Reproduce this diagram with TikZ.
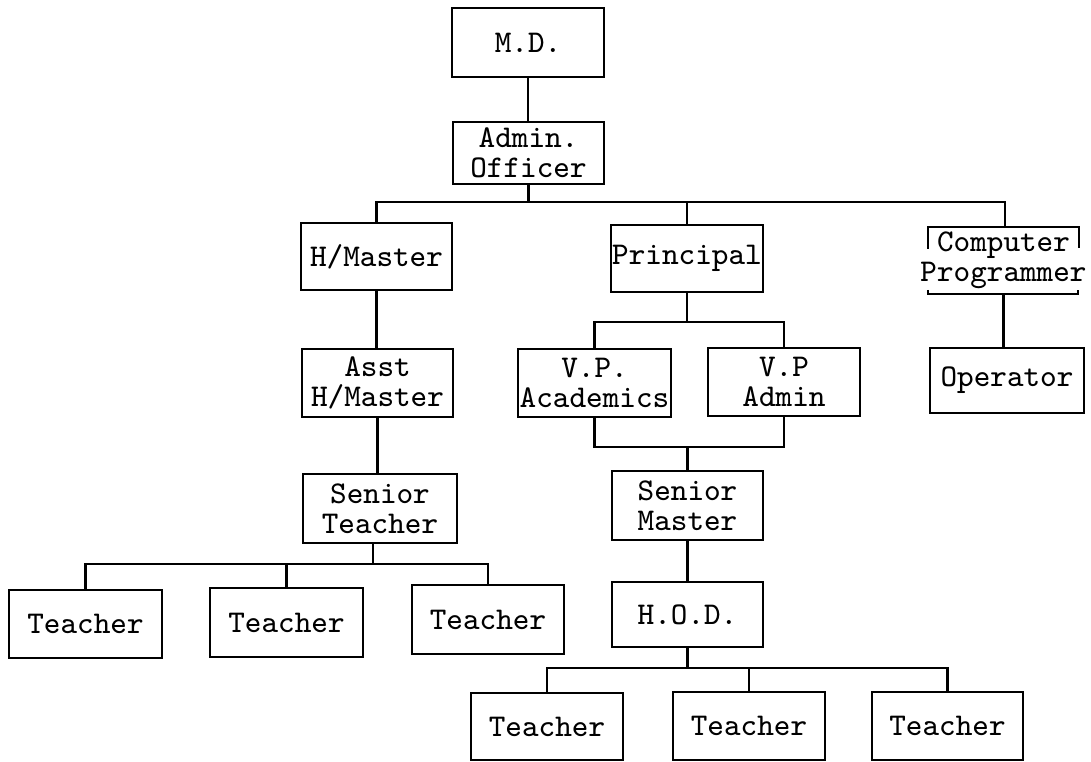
\documentclass[tikz,border=0pt]{standalone}
\usepackage{fontspec}
\begin{document}
\begin{tikzpicture}[x=0.01cm,y=-0.01cm,
  every node/.style={font=\ttfamily\fontsize{9}{8.4}\selectfont, inner sep=0pt, align=center},
  unit/.style={draw, line width=0.7pt, minimum width=1.52cm, minimum height=0.68cm},
  link/.style={line width=0.7pt}]
\useasboundingbox (0,0) rectangle (1091,762);

% top of the chart
\node[unit, minimum height=0.69cm] (md) at (528,42.5) {M.D.};
\node[unit, minimum width=1.51cm, minimum height=0.62cm] (admin) at (528.5,153) {Admin.\\Officer};

% second level
\node[unit, minimum width=1.51cm, minimum height=0.67cm] (hmaster) at (376.5,256.5) {H/Master};
\node[unit, minimum height=0.67cm] (principal) at (687,258.5) {Principal};
\node (comp) at (1003.5,260.5) {Computer\\Programmer};
\draw[link] ([shift={(-75.5,-11.5)}]comp.center) -- ([shift={(-75.5,-33.5)}]comp.center)
            -- ([shift={(75.5,-33.5)}]comp.center) -- ([shift={(75.5,-12.5)}]comp.center);
\draw[link] ([shift={(-75.5,29.5)}]comp.center) -- ([shift={(-75.5,33.5)}]comp.center)
            -- ([shift={(74.5,33.5)}]comp.center) -- ([shift={(74.5,29.5)}]comp.center);
\coordinate (comptop) at ([shift={(1.5,-33.5)}]comp.center);
\coordinate (compbot) at ([shift={(0,33.5)}]comp.center);

% third level
\node[unit, minimum width=1.51cm] (asst) at (377.5,383) {Asst\\H/Master};
\node[unit, minimum width=1.53cm] (vpac) at (594.5,383) {V.P.\\Academics};
\node[unit] (vpad) at (784,382) {V.P\\Admin};
\node[unit, minimum width=1.54cm, minimum height=0.65cm] (operator) at (1007,380.5) {Operator};

% fourth level
\node[unit, minimum width=1.54cm, minimum height=0.69cm] (steach) at (380,508.5) {Senior\\Teacher};
\node[unit, minimum width=1.51cm, minimum height=0.69cm] (smaster) at (687.5,505.5) {Senior\\Master};
\node[unit, minimum width=1.51cm, minimum height=0.65cm] (hod) at (687.5,614.5) {H.O.D.};

% teachers
\node[unit, minimum width=1.53cm] (t1) at (85.5,624) {Teacher};
\node[unit, minimum width=1.53cm, minimum height=0.69cm] (t2) at (286.5,622.5) {Teacher};
\node[unit, minimum height=0.69cm] (t3) at (488,619.5) {Teacher};
\node[unit, minimum height=0.67cm] (b1) at (547,726.5) {Teacher};
\node[unit] (b2) at (749,726) {Teacher};
\node[unit, minimum width=1.51cm] (b3) at (947.5,726) {Teacher};

% bus levels
\coordinate (busA) at (0,202);
\coordinate (busB) at (0,564);
\coordinate (busC) at (0,322);
\coordinate (busD) at (0,447);
\coordinate (busE) at (0,668);
\coordinate (stdrop) at ([xshift=-0.07cm]steach.south);

% connectors
\draw[link] (md.south) -- (md.south |- admin.north);
\draw[link] (admin.south) -- (admin.south |- busA);
\draw[link] (hmaster.north) |- (comptop |- busA) -- (comptop);
\draw[link] (principal.north) -- (principal.north |- busA);
\draw[link] (compbot) -- (compbot |- operator.north);

\draw[link] (hmaster.south) -- (hmaster.south |- asst.north);
\draw[link] (asst.south) -- (asst.south |- steach.north);
\draw[link] (stdrop) -- (stdrop |- busB);
\draw[link] (t1.north) |- (t3.north |- busB) -- (t3.north);
\draw[link] (t2.north) -- (t2.north |- busB);

\draw[link] (principal.south) -- (principal.south |- busC);
\draw[link] (vpac.north) |- (vpad.north |- busC) -- (vpad.north);
\draw[link] (vpac.south) |- (vpad.south |- busD) -- (vpad.south);
\draw[link] (smaster.north) -- (smaster.north |- busD);
\draw[link] (smaster.south) -- (smaster.south |- hod.north);

\draw[link] (hod.south) -- (hod.south |- busE);
\draw[link] (b1.north) |- (b3.north |- busE) -- (b3.north);
\draw[link] (b2.north) -- (b2.north |- busE);
\end{tikzpicture}
\end{document}
